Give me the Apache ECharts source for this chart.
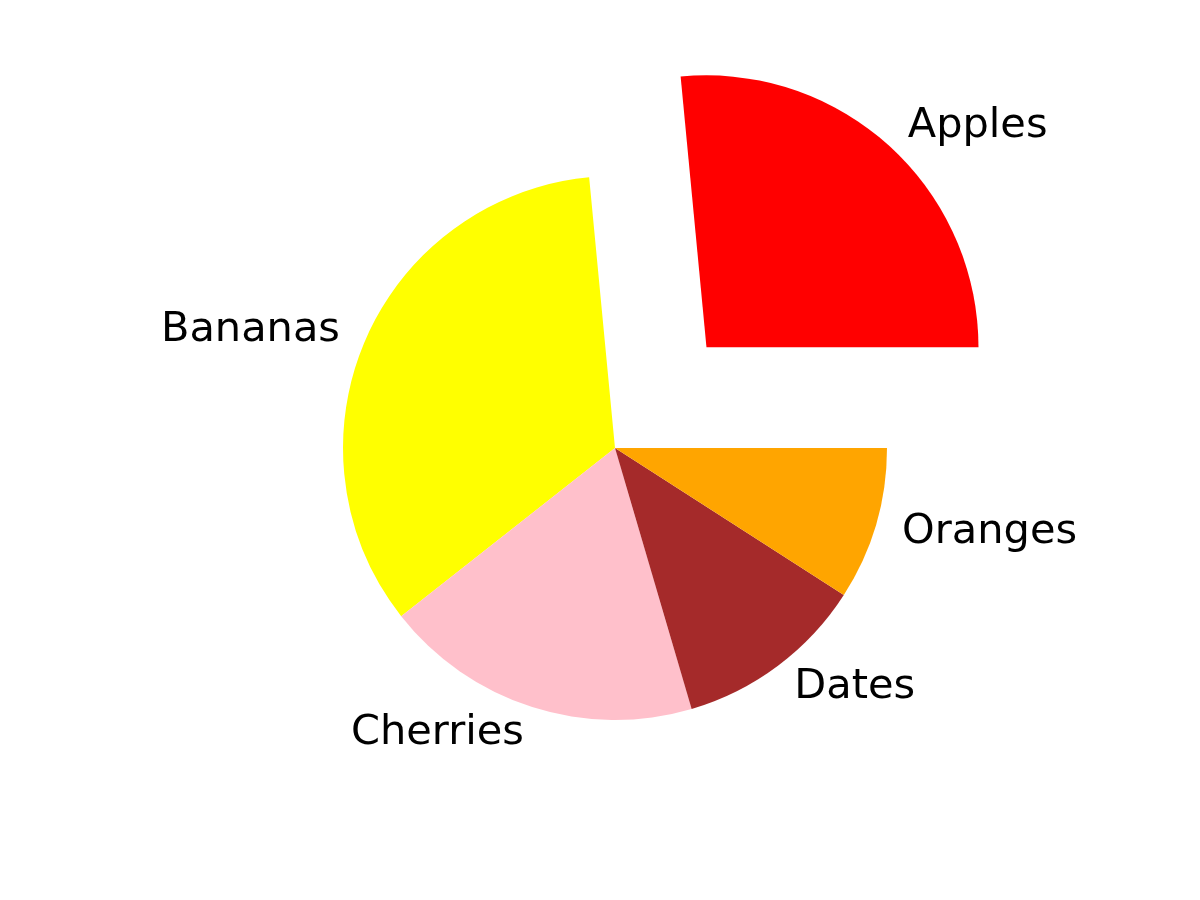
<!DOCTYPE html>
<html>
<head>
<meta charset="utf-8">
<script src="https://cdn.jsdelivr.net/npm/echarts@6/dist/echarts.min.js"></script>
<style>
  html, body { margin: 0; padding: 0; background: #fff; }
  #main { width: 1200px; height: 900px; }
</style>
</head>
<body>
<div id="main"></div>
<script>
// 水果名称与数量
const fruitNames = ['Apples', 'Bananas', 'Cherries', 'Dates', 'Oranges'];
const fruitValues = [35, 45, 25, 15, 12];
const fruitColors = ['#ff0000', '#ffff00', '#ffc0cb', '#a52a2a', '#ffa500'];
// 被拉出的扇区
const explodedName = 'Apples';

const pieRadius = 272;

const chart = echarts.init(document.getElementById('main'));

const pieData = fruitNames.map((name, i) => {
    return {
        name: name,
        value: fruitValues[i],
        selected: name === explodedName,
        itemStyle: { color: fruitColors[i] }
    };
});

const option = {
    animation: false,
    backgroundColor: '#ffffff',
    series: [
        {
            type: 'pie',
            center: [615, 448],
            radius: pieRadius,
            startAngle: 0,
            clockwise: false,
            selectedMode: 'single',
            selectedOffset: pieRadius * 0.5,
            avoidLabelOverlap: false,
            data: pieData,
            label: {
                show: true,
                position: 'outside',
                alignTo: 'none',
                distanceToLabelLine: 0,
                color: '#000',
                fontFamily: 'DejaVu Sans',
                fontSize: 41.5,
                formatter: '{b}'
            },
            labelLine: {
                show: false,
                length: pieRadius * 0.1,
                length2: 0
            },
            emphasis: { disabled: true },
            select: { disabled: false, itemStyle: {} }
        }
    ]
};

chart.setOption(option);
</script>
</body>
</html>
